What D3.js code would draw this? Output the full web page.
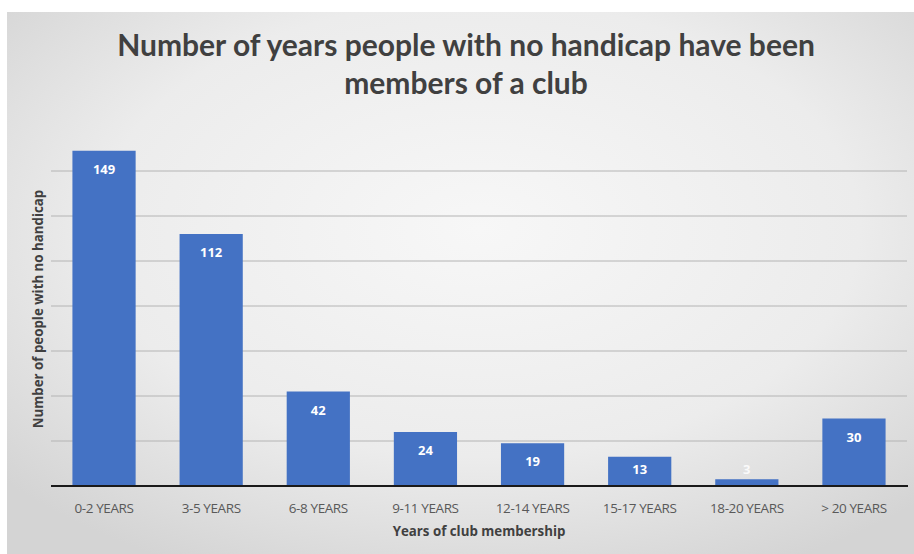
<!DOCTYPE html>
<html>
<head>
<meta charset="utf-8">
<script src="https://cdn.jsdelivr.net/npm/d3@7"></script>
<style>
  body { margin: 0; background: #fff; }
  svg { display: block; }
</style>
</head>
<body>
<div id="chart"></div>
<script>
var categories = ["0-2 YEARS", "3-5 YEARS", "6-8 YEARS", "9-11 YEARS", "12-14 YEARS", "15-17 YEARS", "18-20 YEARS", "> 20 YEARS"];
var values = [149, 112, 42, 24, 19, 13, 3, 30];
var gridTicks = [20, 40, 60, 80, 100, 120, 140];
var titleLines = ["Number of years people with no handicap have been", "members of a club"];

var width = 914, height = 554;
var margin = {top: 126, right: 7, bottom: 68, left: 51};

var svg = d3.select("#chart").append("svg")
	.attr("width", width)
	.attr("height", height);

// background: soft radial grey like the original
var defs = svg.append("defs");
var grad = defs.append("radialGradient")
	.attr("id", "bg")
	.attr("cx", "52%").attr("cy", "40%").attr("r", "70%");
grad.append("stop").attr("offset", "0%").attr("stop-color", "#f7f7f7");
grad.append("stop").attr("offset", "60%").attr("stop-color", "#ececec");
grad.append("stop").attr("offset", "100%").attr("stop-color", "#d4d4d4");

svg.append("rect")
	.attr("x", 7).attr("y", 12)
	.attr("width", width - 7).attr("height", height - 12)
	.attr("fill", "url(#bg)");

var x = d3.scaleBand()
	.domain(categories)
	.range([margin.left, width - margin.right])
	.paddingInner(0.41)
	.paddingOuter(0.2);

var y = d3.scaleLinear()
	.domain([0, 160])
	.range([height - margin.bottom, margin.top]);

// gridlines
svg.append("g")
	.attr("class", "grid")
	.selectAll("line")
	.data(gridTicks)
	.join("line")
	.attr("x1", margin.left)
	.attr("x2", width - margin.right)
	.attr("y1", function(d) { return y(d); })
	.attr("y2", function(d) { return y(d); })
	.attr("stroke", "#b4b4b4")
	.attr("stroke-width", 1);

// bars
svg.append("g")
	.selectAll("rect")
	.data(values)
	.join("rect")
	.attr("x", function(d, i) { return x(categories[i]); })
	.attr("y", function(d) { return y(d); })
	.attr("width", x.bandwidth())
	.attr("height", function(d) { return y(0) - y(d); })
	.attr("fill", "#4472c4");

// value labels (tiny bar: label sits just above it)
svg.append("g")
	.selectAll("text")
	.data(values)
	.join("text")
	.attr("x", function(d, i) { return x(categories[i]) + x.bandwidth() / 2; })
	.attr("y", function(d) { return Math.min(y(d) + 23, y(0) - 12); })
	.attr("text-anchor", "middle")
	.attr("font-family", "'Open Sans', sans-serif")
	.attr("font-weight", "bold")
	.attr("font-size", "13px")
	.attr("fill", function(d) { return d < 5 ? "#fafafa" : "#ffffff"; })
	.text(function(d) { return d; });

// x axis
var xAxis = svg.append("g")
	.attr("transform", "translate(0," + y(0) + ")")
	.call(d3.axisBottom(x).tickSize(0).tickPadding(17));
xAxis.select(".domain")
	.attr("stroke", "#1a1a1a")
	.attr("stroke-width", 2)
	.attr("d", "M" + margin.left + ",0H" + (width - margin.right + 1));
xAxis.selectAll("text")
	.attr("font-family", "'Open Sans', sans-serif")
	.attr("font-size", "13.5px")
	.attr("letter-spacing", "-0.4px")
	.attr("fill", "#595959");

// axis titles
svg.append("text")
	.attr("x", 479)
	.attr("y", 536)
	.attr("text-anchor", "middle")
	.attr("font-family", "'Open Sans', sans-serif")
	.attr("font-weight", "bold")
	.attr("font-size", "13.3px")
	.attr("fill", "#404040")
	.text("Years of club membership");

svg.append("text")
	.attr("transform", "translate(43,309) rotate(-90)")
	.attr("text-anchor", "middle")
	.attr("font-family", "'Open Sans', sans-serif")
	.attr("font-weight", "bold")
	.attr("font-size", "13.3px")
	.attr("fill", "#404040")
	.text("Number of people with no handicap");

// title
svg.append("g")
	.selectAll("text")
	.data(titleLines)
	.join("text")
	.attr("x", 466)
	.attr("y", function(d, i) { return 56 + i * 38; })
	.attr("text-anchor", "middle")
	.attr("font-family", "Lato, sans-serif")
	.attr("font-weight", "bold")
	.attr("font-size", "30px")
	.attr("fill", "#404040")
	.text(function(d) { return d; });
</script>
</body>
</html>
